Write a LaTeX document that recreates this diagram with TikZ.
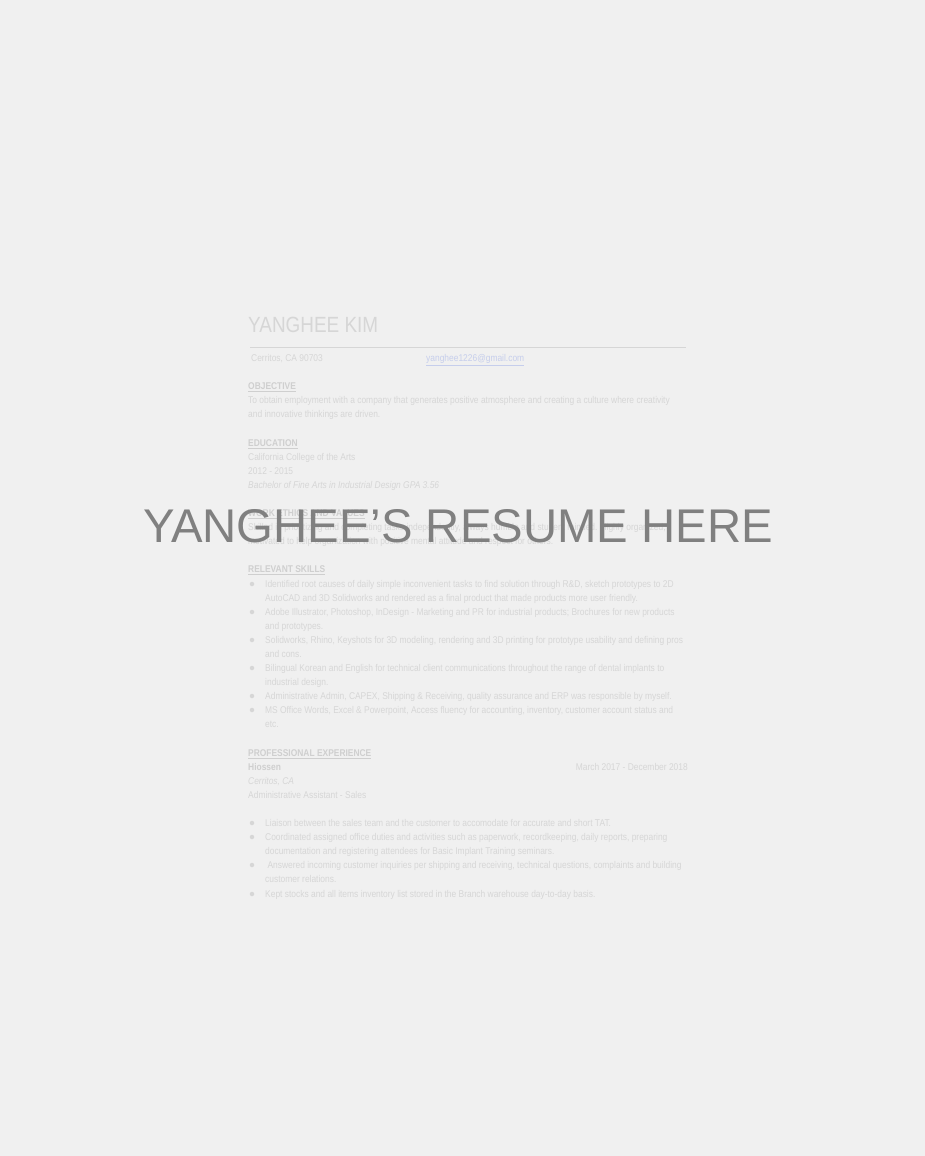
\documentclass[tikz,border=0pt]{standalone}
\usepackage{fontspec}
\usepackage{xcolor}
\usepackage{tikz}
\newfontfamily\resfont[FakeStretch=0.86]{Liberation Sans}
\newfontfamily\overfont{Liberation Sans}
\definecolor{pagebg}{RGB}{240,240,240}
\definecolor{fainttext}{RGB}{214,214,214}
\definecolor{faintbold}{RGB}{207,207,207}
\definecolor{faintlink}{RGB}{198,206,236}
\definecolor{overgray}{RGB}{128,128,128}

\begin{document}
\begin{tikzpicture}[x=1pt,y=-1pt,
  line/.style={anchor=west,inner sep=0pt,text height=7pt,text depth=2pt,text=fainttext,font=\resfont\fontsize{9.8}{11}\selectfont},
  head/.style={line,text=faintbold,font=\resfont\bfseries\fontsize{9.8}{11}\selectfont},
  dot/.style={circle,fill=fainttext,inner sep=0pt,minimum size=4.5pt}]
  \useasboundingbox (0,0) rectangle (924,1156);
  \fill[pagebg] (-3,-3) rectangle (927,1159);

  \node[anchor=base west,inner sep=0pt,text=fainttext,font=\resfont\fontsize{22}{24}\selectfont] (name) at (248,332.5) {YANGHEE KIM};
  \coordinate (rl) at (250,347);
  \coordinate (rr) at (686,347);
  \draw[fainttext,line width=0.8pt] (rl) -- (rr);

  \node[line] (city) at (251,359) {Cerritos, CA 90703};
  \node[line,text=faintlink] (mail) at (426,359) {\underline{yanghee1226@gmail.com}};

  \node[head] (obj) at (248,387) {\underline{OBJECTIVE}};
  \node[line] (obj1) at (248,401) {To obtain employment with a company that generates positive atmosphere and creating a culture where creativity};
  \node[line] (obj2) at (248,415) {and innovative thinkings are driven.};

  \node[head] (edu) at (248,444) {\underline{EDUCATION}};
  \node[line] (edu1) at (248,458) {California College of the Arts};
  \node[line] (edu2) at (248,472) {2012 - 2015};
  \node[line,font=\resfont\itshape\fontsize{9.8}{11}\selectfont] (edu3) at (248,486) {Bachelor of Fine Arts in Industrial Design GPA 3.56};

  \node[head] (work) at (248,514) {\underline{WORK ETHICS AND VALUES}};
  \node[line] (work1) at (248,528) {Skilled in prioritizing and completing tasks independently, always humble and student minded. Highly organized,};
  \node[line] (work2) at (248,542) {motivated to help organization with positive mental attitude and respect for others.};

  \node[head] (skills) at (248,570) {\underline{RELEVANT SKILLS}};
  \foreach \y in {584,612,640,668,696,710} {
    \node[dot] (sd\y) at (252,\y) {};
  }
  \foreach \y/\t in {585/{Identified root causes of daily simple inconvenient tasks to find solution through R\&D, sketch prototypes to 2D},
                     599/{AutoCAD and 3D Solidworks and rendered as a final product that made products more user friendly.},
                     613/{Adobe Illustrator, Photoshop, InDesign - Marketing and PR for industrial products; Brochures for new products},
                     627/{and prototypes.},
                     641/{Solidworks, Rhino, Keyshots for 3D modeling, rendering and 3D printing for prototype usability and defining pros},
                     655/{and cons.},
                     669/{Bilingual Korean and English for technical client communications throughout the range of dental implants to},
                     683/{industrial design.},
                     697/{Administrative Admin, CAPEX, Shipping \& Receiving, quality assurance and ERP was responsible by myself.},
                     711/{MS Office Words, Excel \& Powerpoint, Access fluency for accounting, inventory, customer account status and},
                     725/{etc.}} {
    \node[line] (sk\y) at (265,\y) {\t};
  }

  \node[head] (exp) at (248,754) {\underline{PROFESSIONAL EXPERIENCE}};
  \node[head] (firm) at (248,768) {Hiossen};
  \node[line,anchor=east] (dates) at (688,768) {March 2017 - December 2018};
  \node[line,font=\resfont\itshape\fontsize{9.8}{11}\selectfont] (place) at (248,782) {Cerritos, CA};
  \node[line] (role) at (248,796) {Administrative Assistant - Sales};
  \foreach \y in {823,837,865,894} {
    \node[dot] (ed\y) at (252,\y) {};
  }
  \foreach \y/\t in {824/{Liaison between the sales team and the customer to accomodate for accurate and short TAT.},
                     838/{Coordinated assigned office duties and activities such as paperwork, recordkeeping, daily reports, preparing},
                     852/{documentation and registering attendees for Basic Implant Training seminars.},
                     866/{\ Answered incoming customer inquiries per shipping and receiving, technical questions, complaints and building},
                     880/{customer relations.},
                     895/{Kept stocks and all items inventory list stored in the Branch warehouse day-to-day basis.}} {
    \node[line] (ex\y) at (265,\y) {\t};
  }

  % overlay caption
  \node[inner sep=0pt,text=overgray,font=\overfont\fontsize{47.3}{50}\selectfont] (caption) at (458,526) {YANGHEE’S RESUME HERE};
\end{tikzpicture}
\end{document}
